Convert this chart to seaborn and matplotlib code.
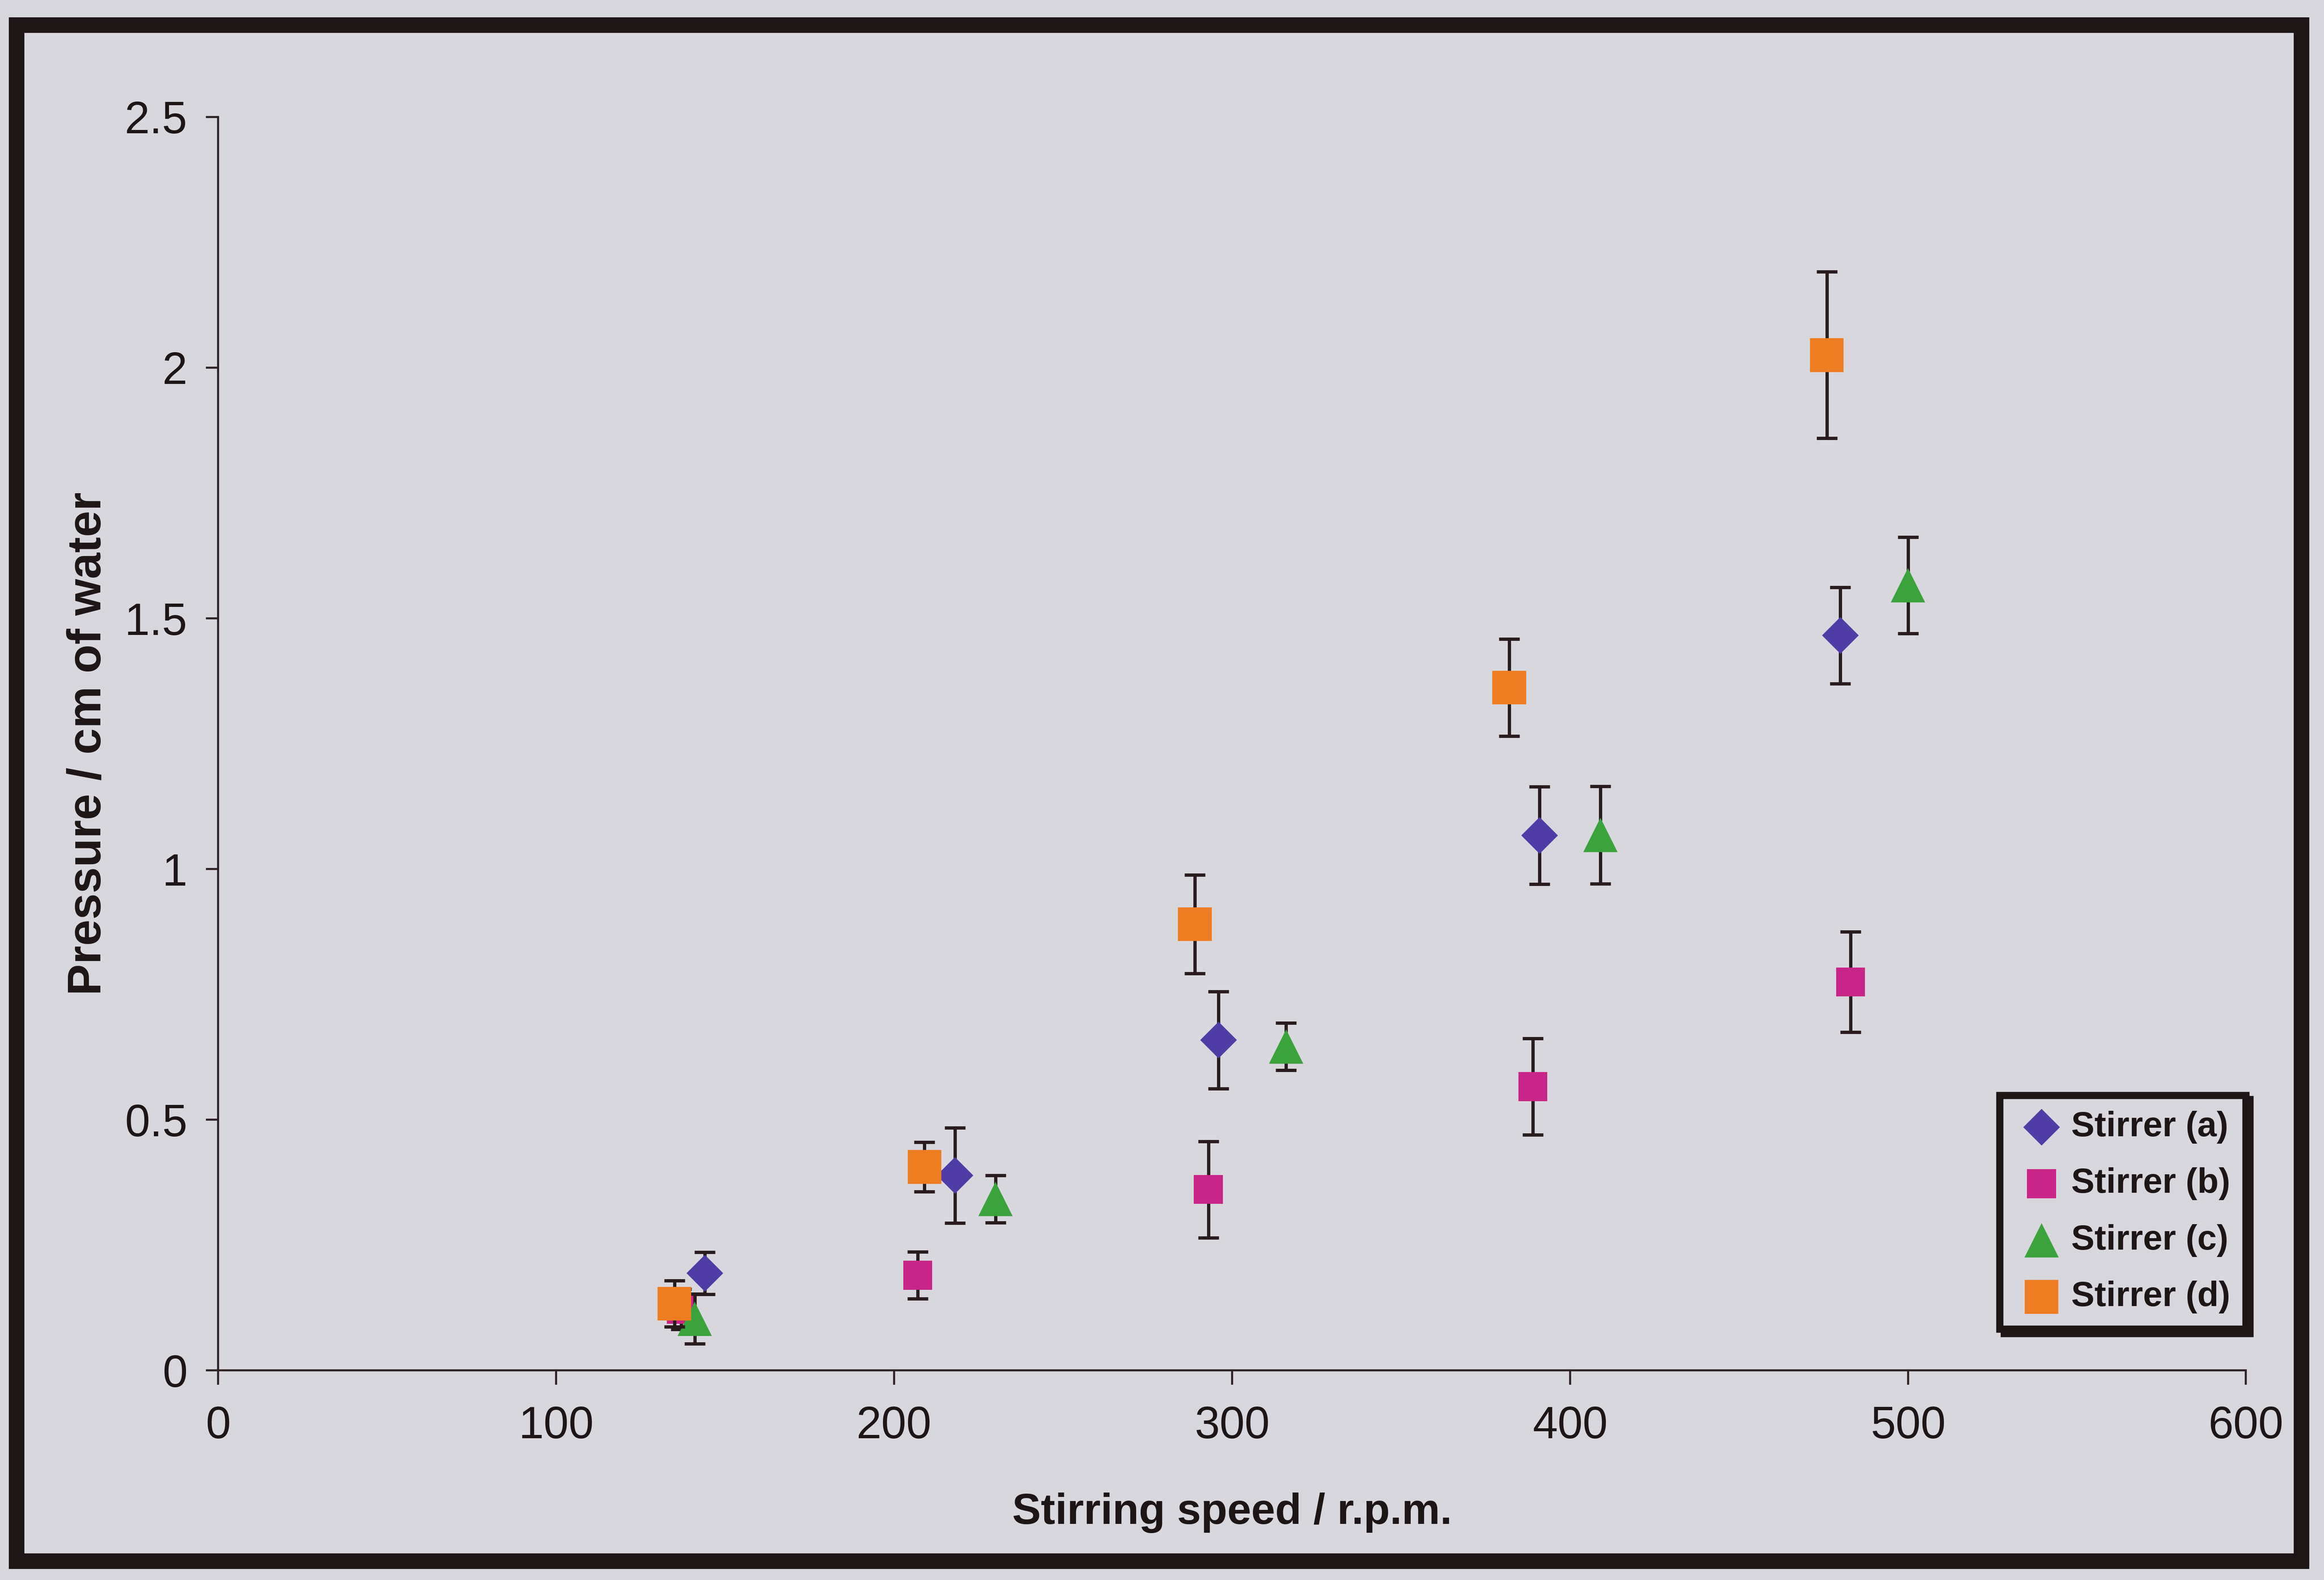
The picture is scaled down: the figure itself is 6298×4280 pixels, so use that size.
import matplotlib
matplotlib.use("Agg")
import matplotlib.pyplot as plt
from matplotlib.patches import Rectangle
import seaborn as sns
import pandas as pd

# Measured pressure (cm of water) against stirring speed (r.p.m.), mean +/- error
series_names = ["Stirrer (a)", "Stirrer (b)", "Stirrer (c)", "Stirrer (d)"]

speed_a = [144, 218, 296, 391, 480]
pressure_a = [0.194, 0.389, 0.659, 1.067, 1.466]
error_a = [0.042, 0.095, 0.097, 0.097, 0.096]

speed_b = [137, 207, 293, 389, 483]
pressure_b = [0.122, 0.190, 0.361, 0.566, 0.775]
error_b = [0.040, 0.047, 0.096, 0.096, 0.100]

speed_c = [141, 230, 316, 409, 500]
pressure_c = [0.103, 0.342, 0.646, 1.068, 1.566]
error_c = [0.050, 0.047, 0.047, 0.097, 0.096]

speed_d = [135, 209, 289, 382, 476]
pressure_d = [0.133, 0.406, 0.890, 1.362, 2.025]
error_d = [0.046, 0.049, 0.098, 0.097, 0.166]

x_ticks = [0, 100, 200, 300, 400, 500, 600]
y_ticks = [0, 0.5, 1, 1.5, 2, 2.5]
y_tick_labels = ["0", "0.5", "1", "1.5", "2", "2.5"]

# Build one tidy table from the series arrays
frames = []
for name, xs, ys, es in zip(
    series_names,
    [speed_a, speed_b, speed_c, speed_d],
    [pressure_a, pressure_b, pressure_c, pressure_d],
    [error_a, error_b, error_c, error_d],
):
    frames.append(pd.DataFrame({"series": name, "speed": xs, "pressure": ys, "err": es}))
data = pd.concat(frames, ignore_index=True)

# Styling
bg = "#d9d7de"
ink = "#1e1517"
colors = {"Stirrer (a)": "#4f3ca6", "Stirrer (b)": "#c92588",
          "Stirrer (c)": "#3aa33c", "Stirrer (d)": "#ee7d22"}
markers = {"Stirrer (a)": "D", "Stirrer (b)": "s", "Stirrer (c)": "^", "Stirrer (d)": "s"}
sizes = {"Stirrer (a)": 160, "Stirrer (b)": 200, "Stirrer (c)": 280, "Stirrer (d)": 270}

sns.set_style("white")
plt.rcParams["font.family"] = ["Liberation Sans", "DejaVu Sans"]

fig = plt.figure(figsize=(15.745, 10.70), dpi=400, facecolor=bg)
ax = fig.add_axes([0.0939, 0.1326, 0.8725, 0.7934])
ax.set_facecolor(bg)

for i, name in enumerate(series_names):
    sub = data[data["series"] == name]
    base_z = 3 + 2 * i
    ax.errorbar(sub["speed"], sub["pressure"], yerr=sub["err"], fmt="none",
                ecolor="#2a1c1e", elinewidth=1.6, capsize=5.0, capthick=1.6,
                zorder=base_z)
    sns.scatterplot(data=sub, x="speed", y="pressure", ax=ax,
                    marker=markers[name], s=sizes[name], color=colors[name],
                    edgecolor="none", linewidth=0, label=name, zorder=base_z + 1)

ax.set_xlim(0, 600)
ax.set_ylim(0, 2.5)
ax.set_xticks(x_ticks)
ax.set_yticks(y_ticks)
ax.set_yticklabels(y_tick_labels)

for side in ["top", "right"]:
    ax.spines[side].set_visible(False)
for side in ["left", "bottom"]:
    ax.spines[side].set_color("#2e2224")
    ax.spines[side].set_linewidth(1.0)

ax.tick_params(axis="y", direction="out", length=6, width=1.0, color="#2e2224",
               labelsize=22, labelcolor=ink, pad=9, left=True)
ax.tick_params(axis="x", direction="out", length=7, width=1.0, color="#2e2224",
               labelsize=22, labelcolor=ink, pad=10, bottom=True)

ax.set_xlabel("Stirring speed / r.p.m.", fontsize=21, fontweight="bold",
              color=ink, labelpad=22)
ax.set_ylabel("Pressure / cm of water", fontsize=23, fontweight="bold",
              color=ink, labelpad=7)

leg = ax.legend(loc="lower right", bbox_to_anchor=(1.0, 0.033), borderaxespad=0,
                frameon=True, fancybox=False, facecolor=bg, edgecolor=ink,
                framealpha=1, prop={"weight": "bold", "size": 17},
                handlelength=1.5, handletextpad=0.1, borderpad=0.45,
                labelspacing=0.68,
                shadow={"color": ink, "alpha": 1.0})
leg.get_frame().set_linewidth(3.5)
for txt in leg.get_texts():
    txt.set_color(ink)

# Heavy frame around the whole figure
fig.patches.append(Rectangle((0.0072, 0.0119), 0.9831, 0.9722,
                             transform=fig.transFigure, fill=False,
                             edgecolor=ink, linewidth=7.6))

fig.savefig("out.png", dpi=400, facecolor=bg)
